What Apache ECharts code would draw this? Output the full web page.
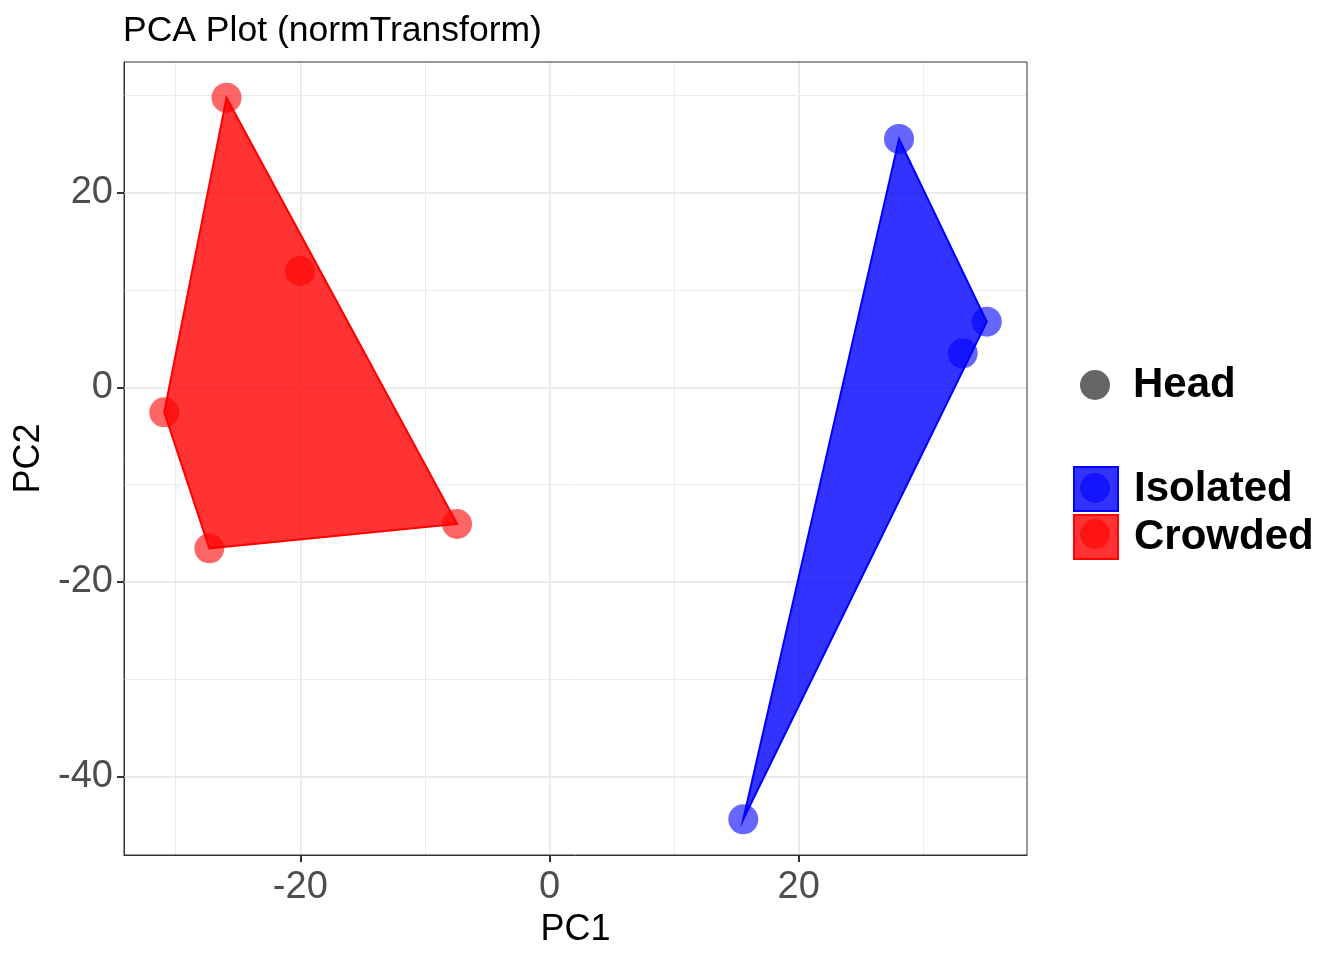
<!DOCTYPE html>
<html>
<head>
<meta charset="utf-8">
<script src="https://cdn.jsdelivr.net/npm/echarts@6/dist/echarts.min.js"></script>
<style>html,body{margin:0;padding:0;background:#fff}#c{width:1344px;height:960px}</style>
</head>
<body>
<div id="c"></div>
<script>
// ---- data ----
const groups = ['Isolated', 'Crowded'];
const groupColors = ['#0000FF', '#FF0000'];
const isolatedPC1 = [28.05, 35.09, 33.16, 15.55];
const isolatedPC2 = [25.52, 6.74, 3.49, -44.40];
const crowdedPC1 = [-25.92, -20.02, -30.92, -27.30, -7.42];
const crowdedPC2 = [29.76, 11.95, -2.57, -16.55, -14.05];
const tissue = 'Head';
const xTickLabels = [-20, 0, 20];
const yTickLabels = [-40, -20, 0, 20];
const xMinor = [-30, -10, 10, 30];
const yMinor = [-30, -10, 10, 30];
const xRange = [-34.15, 38.32];
const yRange = [-48.07, 33.43];

const FONT = '"Liberation Sans", Arial, Helvetica, sans-serif';

function zip(a, b) { return a.map((v, i) => [v, b[i]]); }
function hull(pts) {
  const p = pts.slice().sort((a, b) => a[0] - b[0] || a[1] - b[1]);
  const cross = (o, a, b) => (a[0]-o[0])*(b[1]-o[1]) - (a[1]-o[1])*(b[0]-o[0]);
  const lower = [], upper = [];
  for (const q of p) { while (lower.length >= 2 && cross(lower[lower.length-2], lower[lower.length-1], q) <= 0) lower.pop(); lower.push(q); }
  for (let i = p.length - 1; i >= 0; i--) { const q = p[i]; while (upper.length >= 2 && cross(upper[upper.length-2], upper[upper.length-1], q) <= 0) upper.pop(); upper.push(q); }
  upper.pop(); lower.pop();
  return lower.concat(upper);
}

const groupPts = [zip(isolatedPC1, isolatedPC2), zip(crowdedPC1, crowdedPC2)];
function rgba(hex, a) {
  const r = parseInt(hex.slice(1,3),16), g = parseInt(hex.slice(3,5),16), b = parseInt(hex.slice(5,7),16);
  return `rgba(${r},${g},${b},${a})`;
}

const scatterData = [];
groupPts.forEach((pts, gi) => pts.forEach(p => scatterData.push({ value: p, itemStyle: { color: rgba(groupColors[gi], 0.6), opacity: 1 } })));

const gridLineData = []
  .concat(xMinor.map(v => ({ xAxis: v, lineStyle: { width: 1 } })))
  .concat(yMinor.map(v => ({ yAxis: v, lineStyle: { width: 1 } })))
  .concat(xTickLabels.map(v => ({ xAxis: v, lineStyle: { width: 2 } })))
  .concat(yTickLabels.map(v => ({ yAxis: v, lineStyle: { width: 2 } })));

const polySeries = groups.map((g, gi) => {
  const h = hull(groupPts[gi]);
  return {
    type: 'custom', name: g, z: 5, silent: true,
    data: h,
    encode: { x: 0, y: 1 },
    renderItem: function (params, api) {
      if (params.dataIndex !== 0) return null;
      const pts = h.map(p => api.coord(p));
      return { type: 'polygon', shape: { points: pts },
        style: { fill: rgba(groupColors[gi], 0.8), stroke: groupColors[gi], lineWidth: 2 } };
    }
  };
});

const axisCommon = {
  axisLine: { show: true, onZero: false, lineStyle: { color: '#333333', width: 1 } },
  splitLine: { show: false }
};

const chart = echarts.init(document.getElementById('c'), null, { renderer: 'canvas' });
chart.setOption({
  animation: false,
  backgroundColor: '#ffffff',
  title: { text: 'PCA Plot (normTransform)', left: 118, top: 8,
    textStyle: { fontFamily: FONT, fontSize: 35.5, fontWeight: 'normal', color: '#000' } },
  grid: { left: 124, right: 317, top: 62, bottom: 105, show: true, borderColor: '#333333', borderWidth: 1, backgroundColor: 'transparent', z: 10 },
  xAxis: Object.assign({
    type: 'value', min: xRange[0], max: xRange[1],
    name: 'PC1', nameLocation: 'middle', nameGap: 55,
    nameTextStyle: { fontFamily: FONT, fontSize: 36, color: '#000' },
    axisTick: { show: true, customValues: xTickLabels, length: 7, lineStyle: { color: '#333333', width: 2 } },
    axisLabel: { customValues: xTickLabels, fontFamily: FONT, fontSize: 38, color: '#4D4D4D', margin: 14 }
  }, axisCommon),
  yAxis: Object.assign({
    type: 'value', min: yRange[0], max: yRange[1],
    name: 'PC2', nameLocation: 'middle', nameGap: 73,
    nameTextStyle: { fontFamily: FONT, fontSize: 36, color: '#000' },
    axisTick: { show: true, customValues: yTickLabels, length: 7, lineStyle: { color: '#333333', width: 2 } },
    axisLabel: { customValues: yTickLabels, fontFamily: FONT, fontSize: 38, color: '#4D4D4D', margin: 11 }
  }, axisCommon),
  legend: [
    { data: [{ name: tissue, icon: 'circle', itemStyle: { color: '#666666', borderWidth: 0, opacity: 1 } }],
      left: 1080, top: 363, padding: 0, orient: 'vertical', itemWidth: 30, itemHeight: 30, selectedMode: false,
      textStyle: { fontFamily: FONT, fontSize: 42, fontWeight: 'bold', color: '#000', lineHeight: 44, padding: [0, 0, 0, 18] } },
    { data: groups.map((g, gi) => ({ name: g, icon: 'rect', itemStyle: { color: rgba(groupColors[gi], 0.8), borderColor: groupColors[gi], borderWidth: 2, opacity: 1 } })),
      left: 1073, top: 466, padding: 0, orient: 'vertical', itemWidth: 44, itemHeight: 44, itemGap: 2, selectedMode: false,
      textStyle: { fontFamily: FONT, fontSize: 42, fontWeight: 'bold', color: '#000', lineHeight: 44, padding: [0, 0, 0, 11] } }
  ],
  graphic: groups.map((g, gi) => ({
    type: 'circle', z: 100, shape: { cx: 1095, cy: 488 + gi * 46, r: 15 },
    style: { fill: rgba(groupColors[gi], 0.6) }, silent: true
  })),
  series: [
    { type: 'scatter', name: '_grid', data: [], silent: true, z: 1,
      markLine: { silent: true, symbol: 'none', z: 1, label: { show: false }, animation: false,
        lineStyle: { color: '#EBEBEB', type: 'solid' }, data: gridLineData } },
    { type: 'scatter', name: tissue, z: 3, symbol: 'circle', symbolSize: 30, data: scatterData, silent: true, itemStyle: { opacity: 1 } },
    ...polySeries
  ]
});
</script>
</body>
</html>
